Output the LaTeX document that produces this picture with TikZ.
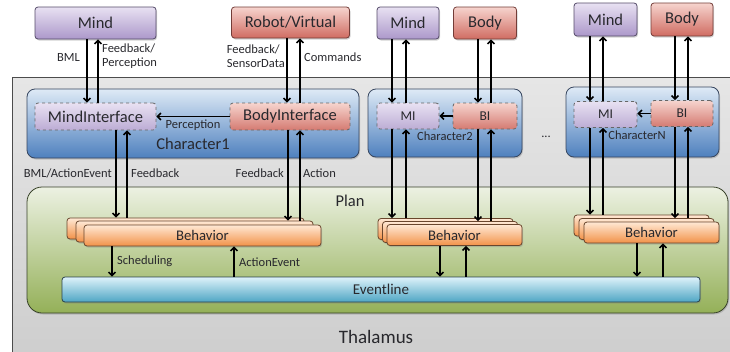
\documentclass[tikz,border=0pt]{standalone}
\usepackage{fontspec}
\setmainfont{Carlito}
\usepackage{tikz}
\usetikzlibrary{arrows.meta, positioning, shadows, calc}
\definecolor{thalTop}{RGB}{230,230,230}
\definecolor{thalBot}{RGB}{205,205,205}
\definecolor{planTop}{RGB}{236,241,226}
\definecolor{planBot}{RGB}{148,176,88}
\definecolor{planLine}{RGB}{55,65,40}
\definecolor{charTop}{RGB}{222,234,246}
\definecolor{charBot}{RGB}{78,128,190}
\definecolor{charLine}{RGB}{55,70,95}
\definecolor{mindTop}{RGB}{232,225,242}
\definecolor{mindBot}{RGB}{172,152,202}
\definecolor{mindLine}{RGB}{85,75,105}
\definecolor{bodyTop}{RGB}{246,212,206}
\definecolor{bodyBot}{RGB}{208,108,98}
\definecolor{bodyLine}{RGB}{115,60,55}
\definecolor{behTop}{RGB}{255,232,212}
\definecolor{behBot}{RGB}{242,146,72}
\definecolor{behLine}{RGB}{105,70,45}
\definecolor{evTop}{RGB}{222,242,250}
\definecolor{evBot}{RGB}{78,166,196}
\definecolor{evLine}{RGB}{40,65,75}
\definecolor{textDark}{RGB}{40,40,45}
\tikzset{
  soft_shadow/.style={drop shadow={shadow xshift=1pt, shadow yshift=-1.5pt, opacity=0.35}},
  outer_box/.style={rectangle, draw=black!70, line width=0.8pt, top color=thalTop, bottom color=thalBot, inner sep=0pt},
  plan_box/.style={rectangle, draw=planLine, line width=0.8pt, top color=planTop, bottom color=planBot, rounded corners=15pt, inner sep=0pt, soft_shadow},
  char_box/.style={rectangle, draw=charLine, line width=0.8pt, top color=charTop, bottom color=charBot, rounded corners=8pt, inner sep=0pt, soft_shadow},
  mind_box/.style={rectangle, draw=mindLine, line width=0.8pt, top color=mindTop, bottom color=mindBot, rounded corners=3pt, inner sep=0pt, text=textDark, font=\fontsize{16.5}{18}\selectfont, soft_shadow},
  body_box/.style={rectangle, draw=bodyLine, line width=0.8pt, top color=bodyTop, bottom color=bodyBot, rounded corners=3pt, inner sep=0pt, text=textDark, font=\fontsize{16.5}{18}\selectfont, soft_shadow},
  mi_box/.style={rectangle, draw=black!60, dashed, line width=0.8pt, top color=mindTop, bottom color=mindBot!80, rounded corners=3pt, inner sep=0pt, text=textDark, font=\fontsize{16.5}{18}\selectfont},
  bi_box/.style={rectangle, draw=black!60, dashed, line width=0.8pt, top color=bodyTop, bottom color=bodyBot!90, rounded corners=3pt, inner sep=0pt, text=textDark, font=\fontsize{16.5}{18}\selectfont},
  behavior_box/.style={rectangle, draw=behLine, line width=0.8pt, top color=behTop, bottom color=behBot, rounded corners=3pt, inner sep=0pt, minimum height=21pt, text=textDark, font=\fontsize{14.7}{16}\selectfont, soft_shadow},
  event_box/.style={rectangle, draw=evLine, line width=0.8pt, top color=evTop, bottom color=evBot, rounded corners=3pt, inner sep=0pt, text=textDark, font=\fontsize{15}{16}\selectfont, soft_shadow},
  label_text/.style={inner sep=0pt, text=textDark, font=\fontsize{12.5}{13.5}\selectfont},
  title_text/.style={inner sep=0pt, text=textDark, font=\fontsize{16.5}{18}\selectfont},
  arrow/.style={-{Straight Barb[length=3.5pt, width=7pt]}, line width=1.5pt, black}
}

\begin{document}
\begin{tikzpicture}[x=1pt, y=-1pt]
  \useasboundingbox (0,0) rectangle (730,351);

  % Thalamus and Plan
  \node (thal) [outer_box, anchor=north west, minimum width=740pt, minimum height=290pt] at (12,77) {};
  \node (thal_label) [title_text, font=\fontsize{19}{20}\selectfont] at (376,337) {Thalamus};
  \node (plan) [plan_box, minimum width=701pt, minimum height=126pt] at (377.5,250) {};
  \node (plan_label) [title_text] at (350,201) {Plan};

  % Characters
  \node (char1) [char_box, minimum width=332pt, minimum height=69pt] at (193,123.5) {};
  \node (char2) [char_box, minimum width=154pt, minimum height=68pt] at (445,123) {};
  \node (charN) [char_box, minimum width=153pt, minimum height=70pt] at (642.5,122) {};
  \node (char1_label) [title_text] at (193,144) {Character1};
  \node (char2_label) [label_text] at (445,136) {Character2};
  \node (charN_label) [label_text] at (637,135) {CharacterN};
  \node (dots) [label_text] at (546,137) {...};

  % Minds and bodies
  \node (mind1) [mind_box, minimum width=121pt, minimum height=32pt] at (95.5,23) {Mind};
  \node (robot) [body_box, minimum width=118pt, minimum height=31pt] at (290.5,22.5) {Robot/Virtual};
  \node (mind2) [mind_box, minimum width=62pt, minimum height=32pt] at (408,23) {Mind};
  \node (body2) [body_box, minimum width=63pt, minimum height=32pt] at (485,23) {Body};
  \node (mindN) [mind_box, minimum width=63pt, minimum height=33pt] at (605.5,19.5) {Mind};
  \node (bodyN) [body_box, minimum width=62pt, minimum height=33pt] at (682,19.5) {Body};

  % Interfaces
  \node (mi1) [mi_box, minimum width=121pt, minimum height=27pt] at (95.5,116.5) {MindInterface};
  \node (bi1) [bi_box, minimum width=120pt, minimum height=27pt] at (290,116.5) {BodyInterface};
  \node (mi2) [mi_box, minimum width=62pt, minimum height=26pt, font=\fontsize{13.5}{15}\selectfont] at (408,116) {MI};
  \node (bi2) [bi_box, minimum width=64pt, minimum height=26pt, font=\fontsize{13.5}{15}\selectfont] at (485,116) {BI};
  \node (miN) [mi_box, minimum width=63pt, minimum height=26pt, font=\fontsize{13.5}{15}\selectfont] at (605.5,114.5) {MI};
  \node (biN) [bi_box, minimum width=62pt, minimum height=26pt, font=\fontsize{13.5}{15}\selectfont] at (682,113.5) {BI};

  % Behavior stacks
  \node (beh1c) [behavior_box, minimum width=237pt, xshift=-17pt, yshift=7pt] at (202.5,235.5) {};
  \node (beh1b) [behavior_box, minimum width=237pt, xshift=-8pt, yshift=4pt] at (202.5,235.5) {};
  \node (beh1) [behavior_box, minimum width=237pt] at (202.5,235.5) {Behavior};
  \node (beh2c) [behavior_box, minimum width=135pt, xshift=-9pt, yshift=6pt] at (454.5,235) {};
  \node (beh2b) [behavior_box, minimum width=135pt, xshift=-4.5pt, yshift=3pt] at (454.5,235) {};
  \node (beh2) [behavior_box, minimum width=135pt] at (454.5,235) {Behavior};
  \node (behNc) [behavior_box, minimum width=135pt, xshift=-10pt, yshift=7pt] at (651.5,232.5) {};
  \node (behNb) [behavior_box, minimum width=135pt, xshift=-5pt, yshift=3.5pt] at (651.5,232.5) {};
  \node (behN) [behavior_box, minimum width=135pt] at (651.5,232.5) {Behavior};

  % Eventline
  \node (event) [event_box, minimum width=638pt, minimum height=25pt] at (381,289.5) {Eventline};

  % Character1 connections
  \draw [arrow] ([xshift=-8.5pt]mind1.south) -- ([xshift=-8.5pt]mi1.north);
  \draw [arrow] ([xshift=2.5pt]mi1.north) -- ([xshift=2.5pt]mind1.south);
  \draw [arrow] ([xshift=-3.5pt]robot.south) -- ([xshift=-3pt]bi1.north);
  \draw [arrow] ([xshift=10pt]bi1.north) -- ([xshift=9.5pt]robot.south);
  \draw [arrow] (bi1.west) -- (mi1.east);
  \draw [arrow] ([xshift=20.5pt]mi1.south) -- ([xshift=20.5pt]mi1.south |- beh1c.north);
  \draw [arrow] ([xshift=31.5pt]mi1.south |- beh1c.north) -- ([xshift=31.5pt]mi1.south);
  \draw [arrow] ([xshift=-2pt]bi1.south) -- ([xshift=-2pt]bi1.south |- beh1b.north);
  \draw [arrow] ([xshift=10pt]bi1.south |- beh1b.north) -- ([xshift=10pt]bi1.south);
  \draw [arrow] ([xshift=-90.5pt]beh1.south) -- ([xshift=-90.5pt]beh1.south |- event.north);
  \draw [arrow] ([xshift=31.5pt]beh1.south |- event.north) -- ([xshift=31.5pt]beh1.south);

  % Character2 connections
  \draw [arrow] ([xshift=-16pt]mind2.south) -- ([xshift=-16pt]mi2.north);
  \draw [arrow] ([xshift=-2pt]mi2.north) -- ([xshift=-2pt]mind2.south);
  \draw [arrow] ([xshift=-7pt]body2.south) -- ([xshift=-7pt]bi2.north);
  \draw [arrow] ([xshift=6pt]bi2.north) -- ([xshift=6pt]body2.south);
  \draw [arrow] (bi2.west) -- (mi2.east);
  \draw [arrow] ([xshift=-16pt]mi2.south) -- ([xshift=-16pt]mi2.south |- beh2c.north);
  \draw [arrow] ([xshift=-2pt]mi2.south |- beh2c.north) -- ([xshift=-2pt]mi2.south);
  \draw [arrow] ([xshift=-7pt]bi2.south) -- ([xshift=-7pt]bi2.south |- beh2b.north);
  \draw [arrow] ([xshift=6pt]bi2.south |- beh2b.north) -- ([xshift=6pt]bi2.south);
  \draw [arrow] ([xshift=-14.5pt]beh2.south) -- ([xshift=-14.5pt]beh2.south |- event.north);
  \draw [arrow] ([xshift=11.5pt]beh2.south |- event.north) -- ([xshift=11.5pt]beh2.south);

  % CharacterN connections
  \draw [arrow] ([xshift=-15.5pt]mindN.south) -- ([xshift=-15.5pt]miN.north);
  \draw [arrow] ([xshift=-2.5pt]miN.north) -- ([xshift=-2.5pt]mindN.south);
  \draw [arrow] ([xshift=-7pt]bodyN.south) -- ([xshift=-7pt]biN.north);
  \draw [arrow] ([xshift=6pt]biN.north) -- ([xshift=6pt]bodyN.south);
  \draw [arrow] (biN.west) -- (miN.east |- biN.west);
  \draw [arrow] ([xshift=-15.5pt]miN.south) -- ([xshift=-15.5pt]miN.south |- behNc.north);
  \draw [arrow] ([xshift=-2.5pt]miN.south |- behNc.north) -- ([xshift=-2.5pt]miN.south);
  \draw [arrow] ([xshift=-7pt]biN.south) -- ([xshift=-7pt]biN.south |- behNb.north);
  \draw [arrow] ([xshift=6pt]biN.south |- behNb.north) -- ([xshift=6pt]biN.south);
  \draw [arrow] ([xshift=-14.5pt]behN.south) -- ([xshift=-14.5pt]behN.south |- event.north);
  \draw [arrow] ([xshift=11.5pt]behN.south |- event.north) -- ([xshift=11.5pt]behN.south);

  % Labels
  \node (bml_label) [label_text, anchor=east] at (80,57) {BML};
  \node (fbp_label) [label_text, anchor=west, align=left] at (102,56) {Feedback/\\Perception};
  \node (fbs_label) [label_text, anchor=east, align=left] at (285,56) {Feedback/\\SensorData};
  \node (cmd_label) [label_text, anchor=west] at (304,57) {Commands};
  \node (perc_label) [label_text] at (193,125) {Perception};
  \node (bmlae_label) [label_text, anchor=east] at (112,173) {BML/ActionEvent};
  \node (fb1_label) [label_text, anchor=west] at (131,173) {Feedback};
  \node (fb2_label) [label_text, anchor=east] at (284,173) {Feedback};
  \node (act_label) [label_text, anchor=west] at (303,173) {Action};
  \node (sched_label) [label_text, anchor=west] at (117,261) {Scheduling};
  \node (ae_label) [label_text, anchor=west] at (239,262) {ActionEvent};
\end{tikzpicture}
\end{document}
